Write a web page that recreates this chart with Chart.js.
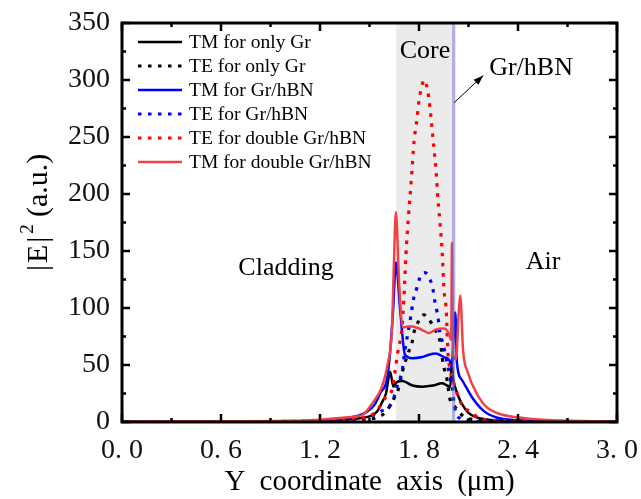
<!DOCTYPE html>
<html>
<head>
<meta charset="utf-8">
<script src="https://cdn.jsdelivr.net/npm/chart.js@4.4.1/dist/chart.umd.min.js"></script>
<style>
  html, body { margin: 0; padding: 0; background: #fff; }
  #wrap { width: 641px; height: 499px; }
</style>
</head>
<body>
<div id="wrap"><canvas id="c" width="641" height="499"></canvas></div>
<script>
// tick values
const xTickVals = [0, 0.6, 1.2, 1.8, 2.4, 3.0];
const xMinorVals = [0.3, 0.9, 1.5, 2.1, 2.7];
const yTickVals = [0, 50, 100, 150, 200, 250, 300, 350];
const yMinorVals = [25, 75, 125, 175, 225, 275, 325];

// regions (um)
const coreRange = [1.66, 2.0];
const layerRange = [2.0, 2.02];

// TM for only Gr
const tmGrX = [0, 0.6, 1.0, 1.2, 1.35, 1.45, 1.5, 1.545, 1.575, 1.6, 1.625, 1.645, 1.665, 1.70, 1.76, 1.82, 1.885, 1.94, 1.97, 1.99, 1.998, 2.006, 2.02, 2.04, 2.06, 2.1, 2.15, 2.2, 2.3, 2.5, 3.0];
const tmGrY = [0.2, 0.3, 0.5, 1, 2, 3.5, 5, 9, 17, 25, 44, 31, 35, 36, 32, 31, 32, 34, 32, 31, 52, 38, 30, 22, 16, 8, 4, 2.5, 1, 0.4, 0.2];
// TE for only Gr
const teGrX = [0, 1.0, 1.3, 1.45, 1.545, 1.6, 1.642, 1.673, 1.703, 1.733, 1.758, 1.77, 1.8, 1.83, 1.86, 1.897, 1.93, 1.945, 1.97, 1.988, 2.02, 2.08, 2.2, 2.4, 3.0];
const teGrY = [0, 0.2, 0.6, 2, 4, 9, 19, 28, 46, 60, 70, 79, 89, 94, 90, 81, 69, 52, 37, 20, 13, 4, 1.5, 0.4, 0];
// TM for Gr/hBN
const tmHbnX = [0, 0.6, 1.0, 1.2, 1.35, 1.485, 1.53, 1.564, 1.612, 1.642, 1.66, 1.685, 1.715, 1.76, 1.82, 1.86, 1.90, 1.95, 1.985, 1.998, 2.01, 2.02, 2.03, 2.06, 2.12, 2.19, 2.27, 2.4, 2.6, 3.0];
const tmHbnY = [0.2, 0.3, 0.6, 1.2, 3, 9, 15, 25, 43, 95, 140, 100, 59, 56, 57, 59, 60, 57, 54, 48, 75, 96, 52, 37, 22, 10, 4, 1.5, 0.6, 0.2];
// TE for Gr/hBN
const teHbnX = [0, 1.0, 1.3, 1.485, 1.564, 1.636, 1.673, 1.697, 1.715, 1.745, 1.758, 1.77, 1.788, 1.806, 1.836, 1.867, 1.885, 1.897, 1.915, 1.927, 1.945, 1.976, 2.0, 2.02, 2.05, 2.1, 2.3, 3.0];
const teHbnY = [0, 0.2, 1, 4, 9, 17, 34, 44, 63, 88, 100, 110, 118, 127, 131, 125, 116, 105, 92, 78, 69, 48, 31, 10, 3, 1, 0.3, 0];
// TE for double Gr/hBN
const teDblX = [0, 0.6, 1.2, 1.4, 1.5, 1.545, 1.6, 1.636, 1.65, 1.67, 1.697, 1.709, 1.721, 1.736, 1.752, 1.77, 1.788, 1.80, 1.815, 1.83, 1.848, 1.867, 1.885, 1.903, 1.915, 1.927, 1.94, 1.952, 1.965, 1.976, 1.99, 2.02, 2.06, 2.11, 2.16, 2.3, 2.6, 3.0];
const teDblY = [0.2, 0.3, 1, 3, 5, 10, 22, 28, 40, 60, 83, 110, 147, 180, 210, 246, 266, 282, 293, 300, 294, 275, 248, 221, 195, 175, 150, 115, 98, 60, 46, 30, 15, 9, 4, 1, 0.3, 0.2];
// TM for double Gr/hBN
const tmDblX = [0, 0.6, 1.0, 1.2, 1.35, 1.455, 1.52, 1.576, 1.612, 1.636, 1.648, 1.66, 1.68, 1.703, 1.75, 1.80, 1.83, 1.86, 1.90, 1.95, 1.98, 1.995, 2.0, 2.005, 2.025, 2.04, 2.05, 2.067, 2.097, 2.15, 2.21, 2.29, 2.43, 2.6, 3.0];
const tmDblY = [0.5, 0.6, 1, 2, 4, 6, 17, 31, 52, 81, 139, 184, 120, 83, 84, 82, 80, 78, 81, 82, 78, 72, 157, 60, 55, 95, 111, 63, 43, 25, 13, 7, 3.5, 1.5, 0.5];

const labels = ['TM for only Gr', 'TE for only Gr', 'TM for Gr/hBN', 'TE for Gr/hBN', 'TE for double Gr/hBN', 'TM for double Gr/hBN'];

const pts = (xs, ys) => xs.map((x, i) => ({ x: x, y: ys[i] }));
const DOT = [3.5, 6.5];
const SERIF = 'Liberation Serif';

function line(label, xs, ys, color, dash, order) {
  return {
    label: label, data: pts(xs, ys), borderColor: color, backgroundColor: color,
    borderWidth: dash ? 3.2 : 2.5, borderDash: dash || [], pointRadius: 0,
    cubicInterpolationMode: 'monotone', fill: false, order: order
  };
}

const datasets = [
  line(labels[0], tmGrX, tmGrY, '#000000', null, 5),
  line(labels[1], teGrX, teGrY, '#000000', DOT, 4),
  line(labels[2], tmHbnX, tmHbnY, '#0000ff', null, 3),
  line(labels[3], teHbnX, teHbnY, '#0000ff', DOT, 2),
  line(labels[4], teDblX, teDblY, '#ff0000', DOT, 1),
  line(labels[5], tmDblX, tmDblY, '#ee4247', null, 0)
];

const fmtX = v => v.toFixed(1).replace('.', '. ');
const noPad = s => { s.paddingLeft = 0; s.paddingRight = 0; s.paddingTop = 0; s.paddingBottom = 0; };

const decor = {
  id: 'decor',
  beforeDatasetsDraw(chart) {
    const { ctx, chartArea: a, scales: { x } } = chart;
    ctx.save();
    ctx.fillStyle = '#ebebeb';
    const c0 = x.getPixelForValue(coreRange[0]), c1 = x.getPixelForValue(coreRange[1]);
    ctx.fillRect(c0, a.top, c1 - c0, a.bottom - a.top);
    ctx.restore();
  },
  afterDatasetsDraw(chart) {
    const { ctx, chartArea: a, scales: { x } } = chart;
    ctx.save();
    ctx.fillStyle = 'rgba(100,100,195,0.5)';
    const b0 = x.getPixelForValue(layerRange[0]), b1 = x.getPixelForValue(layerRange[1]);
    ctx.fillRect(b0, a.top, b1 - b0, a.bottom - a.top);
    ctx.restore();
  },
  afterDraw(chart) {
    const { ctx, chartArea: a, scales: { x, y } } = chart;
    ctx.save();
    // frame
    ctx.strokeStyle = '#000';
    ctx.lineWidth = 3;
    ctx.strokeRect(a.left, a.top, a.right - a.left, a.bottom - a.top);
    // inward ticks on all sides
    ctx.lineWidth = 2.5;
    const tick = (vals, len) => {
      vals.forEach(v => {
        const px = x.getPixelForValue(v);
        ctx.beginPath();
        ctx.moveTo(px, a.bottom); ctx.lineTo(px, a.bottom - len);
        ctx.moveTo(px, a.top); ctx.lineTo(px, a.top + len);
        ctx.stroke();
      });
    };
    const tickY = (vals, len) => {
      vals.forEach(v => {
        const py = y.getPixelForValue(v);
        ctx.beginPath();
        ctx.moveTo(a.left, py); ctx.lineTo(a.left + len, py);
        ctx.moveTo(a.right, py); ctx.lineTo(a.right - len, py);
        ctx.stroke();
      });
    };
    tick(xTickVals, 8); tick(xMinorVals, 4);
    tickY(yTickVals, 8); tickY(yMinorVals, 4);

    // legend
    ctx.font = '19.5px "' + SERIF + '"';
    ctx.textBaseline = 'middle';
    ctx.textAlign = 'left';
    chart.data.datasets.forEach((ds, i) => {
      const ly = a.top + 19 + i * 24;
      ctx.beginPath();
      ctx.strokeStyle = ds.borderColor;
      ctx.lineWidth = ds.borderWidth;
      ctx.setLineDash(ds.borderDash);
      ctx.moveTo(a.left + 16, ly); ctx.lineTo(a.left + 60, ly);
      ctx.stroke();
      ctx.setLineDash([]);
      ctx.fillStyle = '#000';
      ctx.fillText(ds.label, a.left + 67, ly + 1);
    });

    // annotations
    ctx.font = '26px "' + SERIF + '"';
    ctx.textBaseline = 'alphabetic';
    ctx.textAlign = 'center';
    ctx.fillStyle = '#000';
    ctx.fillText('Core', x.getPixelForValue(1.836), y.getPixelForValue(319));
    ctx.fillText('Gr/hBN', x.getPixelForValue(2.479), y.getPixelForValue(304));
    ctx.fillText('Cladding', x.getPixelForValue(0.994), y.getPixelForValue(129));
    ctx.fillText('Air', x.getPixelForValue(2.552), y.getPixelForValue(134));

    // arrow
    const tx = x.getPixelForValue(2.012), ty = y.getPixelForValue(280);
    const hx = x.getPixelForValue(2.19), hy = y.getPixelForValue(304);
    ctx.strokeStyle = '#000';
    ctx.lineWidth = 1;
    ctx.beginPath(); ctx.moveTo(tx, ty); ctx.lineTo(hx, hy); ctx.stroke();
    const ang = Math.atan2(hy - ty, hx - tx);
    ctx.beginPath();
    ctx.moveTo(hx, hy);
    ctx.lineTo(hx - 10 * Math.cos(ang) + 3.5 * Math.sin(ang), hy - 10 * Math.sin(ang) - 3.5 * Math.cos(ang));
    ctx.lineTo(hx - 10 * Math.cos(ang) - 3.5 * Math.sin(ang), hy - 10 * Math.sin(ang) + 3.5 * Math.cos(ang));
    ctx.closePath(); ctx.fill();

    // x title
    ctx.font = '29px "' + SERIF + '"';
    ctx.textAlign = 'center';
    if ('wordSpacing' in ctx) ctx.wordSpacing = '7px';
    ctx.fillText('Y coordinate axis (\u03bcm)', (a.left + a.right) / 2, 490);
    if ('wordSpacing' in ctx) ctx.wordSpacing = '0px';

    // y title
    ctx.translate(47, 0);
    ctx.rotate(-Math.PI / 2);
    ctx.textAlign = 'left';
    ctx.font = '30px "' + SERIF + '"';
    if ('letterSpacing' in ctx) ctx.letterSpacing = '2px';
    ctx.fillText('|E|', -271, 0);
    const w1 = ctx.measureText('|E|').width;
    if ('letterSpacing' in ctx) ctx.letterSpacing = '0px';
    ctx.font = '19px "' + SERIF + '"';
    ctx.fillText('2', -271 + w1 + 1, -14);
    ctx.font = '30px "' + SERIF + '"';
    ctx.fillText('(a.u.)', -217, 0);
    ctx.restore();
  }
};

new Chart(document.getElementById('c').getContext('2d'), {
  type: 'line',
  data: { datasets: datasets },
  options: {
    responsive: false, animation: false, devicePixelRatio: 1,
    layout: { padding: { top: 23, right: 24, left: 0, bottom: 0 } },
    plugins: { legend: { display: false }, tooltip: { enabled: false } },
    scales: {
      x: {
        type: 'linear', min: 0, max: 3,
        afterFit: s => { s.height = 77; noPad(s); },
        afterBuildTicks: s => { s.ticks = xTickVals.map(v => ({ value: v })); },
        grid: { display: false, drawTicks: false },
        border: { display: false },
        ticks: { autoSkip: false, maxRotation: 0, padding: 12, color: '#111',
          font: { family: SERIF, size: 28 }, callback: v => fmtX(v) }
      },
      y: {
        type: 'linear', min: 0, max: 350,
        afterFit: s => { s.width = 122; noPad(s); },
        afterBuildTicks: s => { s.ticks = yTickVals.map(v => ({ value: v })); },
        grid: { display: false, drawTicks: false },
        border: { display: false },
        ticks: { autoSkip: false, padding: 12, color: '#111',
          font: { family: SERIF, size: 28 } }
      }
    }
  },
  plugins: [decor]
});
</script>
</body>
</html>
